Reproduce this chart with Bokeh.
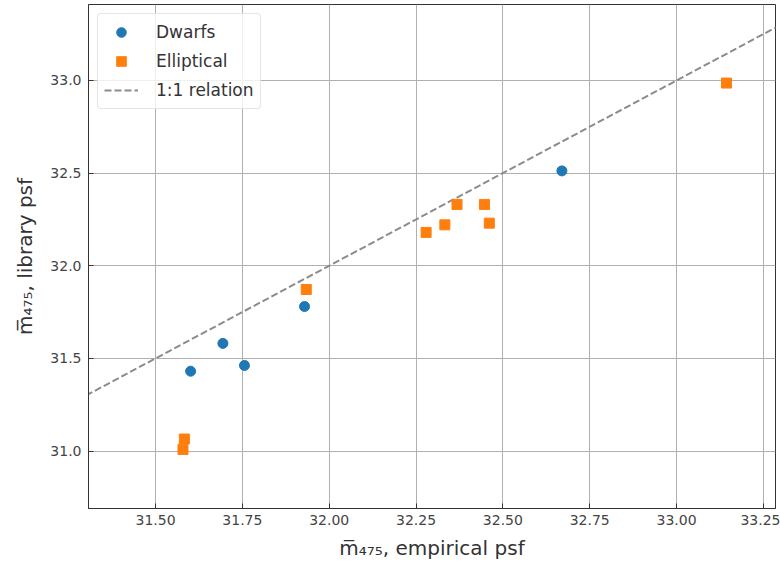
from bokeh.plotting import figure
from bokeh.models import Range1d, FixedTicker, PrintfTickFormatter
from bokeh.embed import file_html
from bokeh.resources import INLINE

# Data
dwarf_emp = [31.601, 31.694, 31.756, 31.929, 32.670]
dwarf_lib = [31.431, 31.581, 31.462, 31.780, 32.512]
ell_emp = [31.579, 31.583, 31.934, 32.279, 32.333, 32.368, 32.447, 32.461, 33.144]
ell_lib = [31.009, 31.065, 31.872, 32.180, 32.221, 32.331, 32.331, 32.230, 32.986]
relation = [31.3, 33.3]
x_ticks = [31.5, 31.75, 32.0, 32.25, 32.5, 32.75, 33.0, 33.25]
y_ticks = [31.0, 31.5, 32.0, 32.5, 33.0]

FONT = "DejaVu Sans"

p = figure(width=780, height=569, output_backend="svg", toolbar_location=None,
           x_range=Range1d(31.307, 33.285), y_range=Range1d(30.69, 33.41),
           min_border_left=88, min_border_right=5, min_border_top=4,
           min_border_bottom=61)

p.line(relation, relation, line_color="#8c8c8c", line_width=2,
       line_dash="7 3", legend_label="1:1 relation")
p.scatter(dwarf_emp, dwarf_lib, marker="circle", size=10, color="#1f77b4",
          legend_label="Dwarfs")
p.scatter(ell_emp, ell_lib, marker="square", size=10, color="#ff7f0e",
          legend_label="Elliptical")

# reorder legend items: Dwarfs, Elliptical, 1:1 relation
items = p.legend[0].items
p.legend[0].items = [items[1], items[2], items[0]]

p.xaxis.ticker = FixedTicker(ticks=x_ticks)
p.yaxis.ticker = FixedTicker(ticks=y_ticks)
p.xaxis.formatter = PrintfTickFormatter(format="%.2f")
p.yaxis.formatter = PrintfTickFormatter(format="%.1f")

for ax in (p.xaxis[0], p.yaxis[0]):
    ax.major_tick_in = 5
    ax.major_tick_out = 0
    ax.minor_tick_in = 0
    ax.minor_tick_out = 0
    ax.axis_line_color = "#333333"
    ax.major_tick_line_color = "#333333"
    ax.major_label_text_font = FONT
    ax.major_label_text_font_size = "14px"
    ax.major_label_text_color = "#444444"
    ax.axis_label_text_font = FONT
    ax.axis_label_text_font_size = "20px"
    ax.axis_label_text_font_style = "normal"
    ax.axis_label_text_color = "#333333"

p.xaxis.axis_label = "m\u0305\u2084\u2087\u2085, empirical psf"
p.yaxis.axis_label = "m\u0305\u2084\u2087\u2085, library psf"
p.xaxis.major_label_standoff = 6
p.yaxis.major_label_standoff = 7
p.xaxis.axis_label_standoff = 8
p.yaxis.axis_label_standoff = 10

p.grid.grid_line_color = "#b0b0b0"
p.grid.grid_line_width = 1
p.outline_line_color = "#333333"
p.outline_line_width = 1
p.background_fill_color = "white"
p.border_fill_color = "white"

lg = p.legend[0]
lg.location = "top_left"
lg.margin = 9
lg.padding = 6
lg.spacing = 5
lg.label_height = 24
lg.glyph_height = 24
lg.glyph_width = 34
lg.label_standoff = 18
lg.border_line_color = "#cccccc"
lg.border_radius = 4
lg.background_fill_alpha = 0.8
lg.label_text_font = FONT
lg.label_text_font_size = "17px"
lg.label_text_color = "#333333"

open("out.html", "w").write(file_html(p, INLINE))
